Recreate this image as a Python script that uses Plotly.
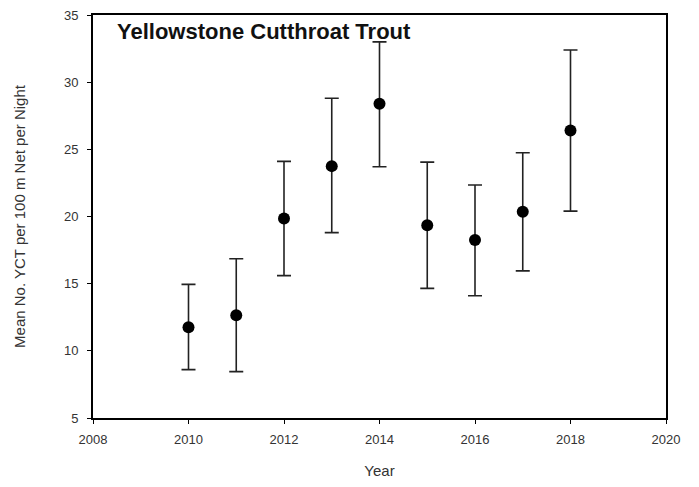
import plotly.graph_objects as go

years = [2010, 2011, 2012, 2013, 2014, 2015, 2016, 2017, 2018]
mean_yct = [11.75, 12.65, 19.85, 23.75, 28.4, 19.35, 18.25, 20.35, 26.4]
upper = [14.95, 16.85, 24.1, 28.8, 33.0, 24.05, 22.35, 24.75, 32.4]
lower = [8.6, 8.45, 15.6, 18.8, 23.7, 14.65, 14.1, 15.95, 20.4]

err_plus = [u - m for u, m in zip(upper, mean_yct)]
err_minus = [m - l for m, l in zip(mean_yct, lower)]

x_ticks = [2008, 2010, 2012, 2014, 2016, 2018, 2020]
y_ticks = [5, 10, 15, 20, 25, 30, 35]

fig = go.Figure()
fig.add_trace(go.Scatter(
    x=years, y=mean_yct, mode="markers",
    marker=dict(color="black", size=12),
    error_y=dict(type="data", symmetric=False, array=err_plus, arrayminus=err_minus,
                 color="#222222", thickness=1.6, width=7),
    showlegend=False,
))

font_fam = "Liberation Sans, Arial, sans-serif"
fig.update_layout(
    width=691, height=479,
    margin=dict(l=85, r=33, t=7, b=69, autoexpand=False),
    paper_bgcolor="white", plot_bgcolor="white",
    font=dict(family=font_fam, size=12, color="#333333"),
    xaxis=dict(range=[2008, 2020], tickvals=x_ticks, ticktext=[str(v) for v in x_ticks],
               showgrid=False, zeroline=False, showline=True, linecolor="black", linewidth=2,
               mirror=True, ticks="outside", ticklen=4, tickcolor="black", automargin=False,
               tickfont=dict(size=13), ticklabelstandoff=4, ticklabeloverflow="allow",
               title=dict(text="Year", font=dict(size=15, color="#333333"), standoff=20)),
    yaxis=dict(range=[5, 35], tickvals=y_ticks, ticktext=[str(v) for v in y_ticks],
               showgrid=False, zeroline=False, showline=True, linecolor="black", linewidth=2,
               mirror=True, ticks="outside", ticklen=4, tickcolor="black", automargin=False,
               tickfont=dict(size=13), ticklabelstandoff=6, ticklabeloverflow="allow",
               title=dict(text="Mean No. YCT per 100 m Net per Night", font=dict(size=15, color="#333333"), standoff=35)),
    annotations=[dict(text="<b>Yellowstone Cutthroat Trout</b>", x=0.038, y=0.995,
                      xref="paper", yref="paper", xanchor="left", yanchor="top",
                      showarrow=False, font=dict(size=22, color="#111111", family=font_fam))],
)

fig.write_html("out.html")
